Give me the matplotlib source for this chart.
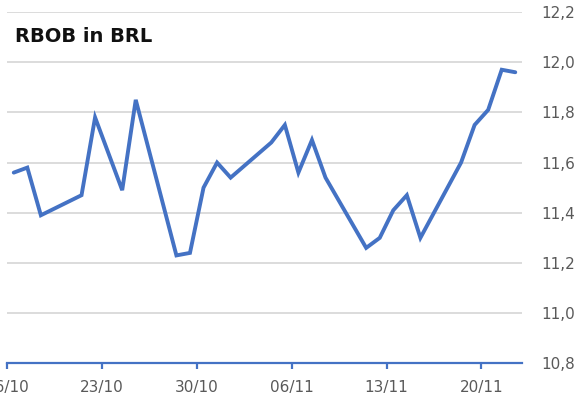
import pandas as pd
import matplotlib
matplotlib.use("Agg")
import matplotlib.pyplot as plt
import matplotlib.dates as mdates
from matplotlib.ticker import FuncFormatter, MultipleLocator

# trading days (2019) and RBOB price converted to BRL
dates = ['2019-10-16', '2019-10-17', '2019-10-18', '2019-10-21', '2019-10-22',
         '2019-10-24', '2019-10-25', '2019-10-28', '2019-10-29', '2019-10-30',
         '2019-10-31', '2019-11-01', '2019-11-04', '2019-11-05', '2019-11-06',
         '2019-11-07', '2019-11-08', '2019-11-11', '2019-11-12', '2019-11-13',
         '2019-11-14', '2019-11-15', '2019-11-18', '2019-11-19', '2019-11-20',
         '2019-11-21', '2019-11-22']
values = [11.56, 11.58, 11.39, 11.47, 11.78,
          11.49, 11.85, 11.23, 11.24, 11.50,
          11.60, 11.54, 11.68, 11.75, 11.56,
          11.69, 11.54, 11.26, 11.30, 11.41,
          11.47, 11.30, 11.60, 11.75, 11.81,
          11.97, 11.96]
tick_dates = ['2019-10-16', '2019-10-23', '2019-10-30', '2019-11-06', '2019-11-13', '2019-11-20']

blue = '#4472C4'
grey_txt = '#595959'

fig = plt.figure(figsize=(5.82, 4.01), dpi=100)
ax = fig.add_axes([0.012, 0.094, 0.885, 0.876])

# excel places each day in the middle of its slot
x = pd.to_datetime(dates) + pd.Timedelta(hours=12)
ax.plot(x, values, color=blue, lw=2.8, solid_joinstyle='miter', solid_capstyle='round', zorder=3)

ax.set_xlim(pd.Timestamp('2019-10-16'), pd.Timestamp('2019-11-23'))
ax.set_ylim(10.8, 12.2)
ax.yaxis.set_major_locator(MultipleLocator(0.2))
ax.yaxis.set_major_formatter(FuncFormatter(lambda v, p: f"{v:.1f}".replace('.', ',')))
ax.set_xticks(pd.to_datetime(tick_dates))
ax.xaxis.set_major_formatter(mdates.DateFormatter('%d/%m'))

ax.grid(axis='y', color='#d9d9d9', lw=1.3, zorder=0)
for s in ['top', 'right', 'left']:
    ax.spines[s].set_visible(False)
ax.spines['bottom'].set_color(blue)
ax.spines['bottom'].set_linewidth(1.6)
ax.spines['bottom'].set_zorder(4)

ax.yaxis.tick_right()
ax.tick_params(axis='y', length=0, pad=14, labelsize=11, labelcolor=grey_txt)
ax.tick_params(axis='x', length=4, width=1.6, color=blue, direction='out', pad=8,
               labelsize=11, labelcolor=grey_txt)

ax.text(0.015, 0.93, 'RBOB in BRL', transform=ax.transAxes, fontsize=14,
        fontweight='bold', color='#111111', va='center', ha='left')

fig.savefig('out.png', dpi=100)
